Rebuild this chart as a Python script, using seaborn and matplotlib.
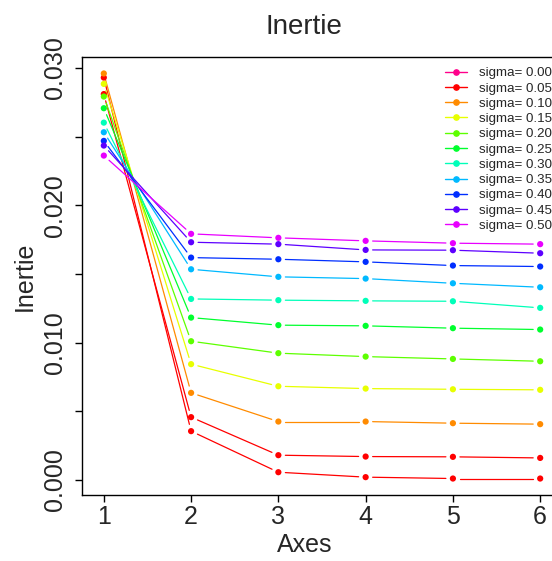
import numpy as np
import pandas as pd
import seaborn as sns
import matplotlib.pyplot as plt
from matplotlib.lines import Line2D

# Data

axes_num = [1, 2, 3, 4, 5, 6]
sigmas = ['0.00', '0.05', '0.10', '0.15', '0.20', '0.25',
          '0.30', '0.35', '0.40', '0.45', '0.50']

inertie_000 = [0.0293, 0.00355, 0.00056, 0.00020, 0.00010, 0.00010]
inertie_005 = [0.0281, 0.00457, 0.00180, 0.00170, 0.00168, 0.00160]
inertie_010 = [0.0296, 0.00634, 0.00425, 0.00425, 0.00413, 0.00406]
inertie_015 = [0.02884, 0.00843, 0.00682, 0.00665, 0.00660, 0.00656]
inertie_020 = [0.02792, 0.01010, 0.00923, 0.00898, 0.00881, 0.00864]
inertie_025 = [0.02707, 0.01182, 0.01127, 0.01122, 0.01105, 0.01095]
inertie_030 = [0.02602, 0.01318, 0.01309, 0.01304, 0.01301, 0.01253]
inertie_035 = [0.02532, 0.01534, 0.01479, 0.01466, 0.01432, 0.01403]
inertie_040 = [0.02469, 0.01619, 0.01607, 0.01588, 0.01561, 0.01554]
inertie_045 = [0.02435, 0.01731, 0.01717, 0.01675, 0.01673, 0.01651]
inertie_050 = [0.02362, 0.01792, 0.01763, 0.01741, 0.01724, 0.01717]

series = [inertie_000, inertie_005, inertie_010, inertie_015, inertie_020,
          inertie_025, inertie_030, inertie_035, inertie_040, inertie_045,
          inertie_050]

# colours: R rainbow(11); the plot uses red twice, the legend starts with pink
line_colors = ['#FF0000', '#FF0000', '#FF8B00', '#E8FF00', '#5DFF00', '#00FF2E',
               '#00FFB9', '#00B9FF', '#002EFF', '#5D00FF', '#E800FF']
legend_colors = ['#FF008B', '#FF0000', '#FF8B00', '#E8FF00', '#5DFF00', '#00FF2E',
                 '#00FFB9', '#00B9FF', '#002EFF', '#5D00FF', '#E800FF']

rows = []
for s, vals in zip(sigmas, series):
    for a, v in zip(axes_num, vals):
        rows.append({'sigma': s, 'Axes': a, 'Inertie': v})
df = pd.DataFrame(rows)

sns.set_style('ticks')
plt.rcParams['font.family'] = ['Liberation Sans', 'DejaVu Sans']

fig = plt.figure(figsize=(5.52, 5.61), dpi=100)
ax = fig.add_axes([82/552, 66/561, 480/552, 438/561])
ax.set_xlim(0.75, 6.25)
ax.set_ylim(-0.0011, 0.0308)

sns.scatterplot(data=df, x='Axes', y='Inertie', hue='sigma',
                palette=dict(zip(sigmas, line_colors)), s=20, linewidth=0,
                legend=False, ax=ax, zorder=3)

# type="b" style lines: segments with a gap around each point
gap = 7
inv = ax.transData.inverted()
for vals, col in zip(series, line_colors):
    pts = ax.transData.transform(np.column_stack([axes_num, vals]))
    for p0, p1 in zip(pts[:-1], pts[1:]):
        d = p1 - p0
        u = d / np.hypot(*d)
        seg = inv.transform(np.array([p0 + u*gap, p1 - u*gap]))
        ax.plot(seg[:, 0], seg[:, 1], color=col, lw=0.9)

ax.set_xticks(axes_num)
yt = np.arange(0, 0.0301, 0.005)
ax.set_yticks(yt)
ax.set_yticklabels(['%.3f' % v if i % 2 == 0 else '' for i, v in enumerate(yt)])
ax.tick_params(axis='both', labelsize=18, length=5, width=1, color='black')
ax.tick_params(axis='x', pad=2)
ax.tick_params(axis='y', labelrotation=90, pad=6)
for lab in ax.get_yticklabels():
    lab.set_va('center')

for sp in ax.spines.values():
    sp.set_color('black')
    sp.set_linewidth(1)

ax.set_title('Inertie', fontsize=20, x=(304-82)/480, pad=16.5)
ax.set_xlabel('Axes', fontsize=18)
ax.xaxis.set_label_coords((305-82)/480, -0.087)
ax.set_ylabel('Inertie', fontsize=18, labelpad=4)

handles = [Line2D([0], [0], color=c, lw=1, marker='o', markersize=3.8)
           for c in legend_colors]
ax.legend(handles, ['sigma= ' + s for s in sigmas], loc='upper left',
          bbox_to_anchor=(445/552, 1 - 67/561), bbox_transform=fig.transFigure,
          frameon=False, fontsize=9.6, handlelength=1.65, handletextpad=0.9,
          labelspacing=0.22, borderpad=0, borderaxespad=0)

fig.savefig('out.png', dpi=100)
